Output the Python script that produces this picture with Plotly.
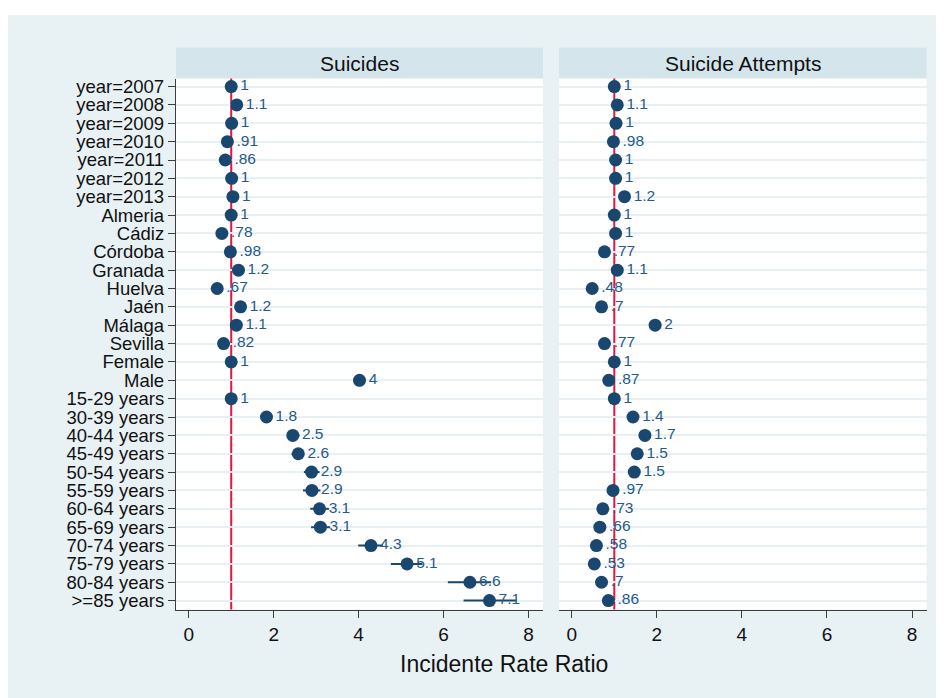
import plotly.graph_objects as go

# ---------------- data ----------------
row_labels = ["year=2007", "year=2008", "year=2009", "year=2010", "year=2011",
              "year=2012", "year=2013", "Almeria", "Cádiz", "Córdoba", "Granada",
              "Huelva", "Jaén", "Málaga", "Sevilla", "Female", "Male",
              "15-29 years", "30-39 years", "40-44 years", "45-49 years",
              "50-54 years", "55-59 years", "60-64 years", "65-69 years",
              "70-74 years", "75-79 years", "80-84 years", ">=85 years"]

suicides_irr = [1.00, 1.13, 1.01, 0.91, 0.86, 1.01, 1.04, 1.00, 0.78, 0.98, 1.17,
                0.67, 1.22, 1.12, 0.82, 1.00, 4.02, 1.00, 1.83, 2.45, 2.58,
                2.89, 2.90, 3.08, 3.10, 4.29, 5.14, 6.62, 7.08]
suicides_lo = [1.00, 1.04, 0.93, 0.84, 0.79, 0.93, 0.96, 1.00, 0.72, 0.91, 1.09,
               0.61, 1.13, 1.05, 0.76, 1.00, 3.88, 1.00, 1.72, 2.34, 2.42,
               2.71, 2.69, 2.86, 2.88, 3.99, 4.76, 6.10, 6.47]
suicides_hi = [1.00, 1.22, 1.09, 0.98, 0.93, 1.09, 1.12, 1.00, 0.84, 1.05, 1.26,
               0.73, 1.31, 1.19, 0.88, 1.00, 4.16, 1.00, 1.95, 2.61, 2.69,
               3.08, 3.10, 3.30, 3.33, 4.57, 5.50, 7.12, 7.71]

attempts_irr = [1.00, 1.07, 1.04, 0.98, 1.03, 1.03, 1.24, 1.00, 1.03, 0.77, 1.07,
                0.48, 0.70, 1.96, 0.77, 1.00, 0.87, 1.00, 1.44, 1.72, 1.54,
                1.47, 0.97, 0.73, 0.66, 0.58, 0.53, 0.70, 0.86]
attempts_lo = [1.00, 1.04, 1.01, 0.95, 1.00, 1.00, 1.20, 1.00, 1.00, 0.74, 1.04,
               0.46, 0.68, 1.90, 0.75, 1.00, 0.85, 1.00, 1.39, 1.66, 1.48,
               1.42, 0.93, 0.70, 0.63, 0.55, 0.50, 0.66, 0.81]
attempts_hi = [1.00, 1.10, 1.07, 1.01, 1.06, 1.06, 1.28, 1.00, 1.06, 0.80, 1.10,
               0.50, 0.72, 2.02, 0.79, 1.00, 0.89, 1.00, 1.49, 1.78, 1.60,
               1.52, 1.01, 0.76, 0.69, 0.61, 0.56, 0.74, 0.91]

panel_titles = ["Suicides", "Suicide Attempts"]
x_ticks = [0, 2, 4, 6, 8]
x_title = "Incidente Rate Ratio"
ref_value = 1

# ---------------- style ----------------
W, H = 944, 698          # figure size (page body adds an 8px offset)
OX, OY = 8, 8            # screen offset of the figure
NAVY = "#1a476f"
LABEL = "#245a8a"
RED = "#e3173e"
BG = "#e8f1f4"
STRIP = "#d5e5ec"
GRID = "#e8f0f3"
AXIS = "#3c3c3c"
FONT = "Arial, Liberation Sans, sans-serif"


def fx(p):
    return (p - OX) / W


def fy(p):
    return 1 - (p - OY) / H


def fmt(v):
    s = f"{v:.2g}"
    if s.startswith("0."):
        s = s[1:]
    return s


panels = [
    (suicides_irr, suicides_lo, suicides_hi, "x", "y", (176, 543)),
    (attempts_irr, attempts_lo, attempts_hi, "x2", "y2", (559, 926.5)),
]

fig = go.Figure()
for est, lo, hi, xa, ya, _ in panels:
    fig.add_trace(go.Scatter(
        x=est, y=row_labels, mode="markers+text",
        text=[fmt(v) for v in est], textposition="middle right",
        textfont=dict(size=15.5, color=LABEL, family=FONT),
        marker=dict(size=13, color=NAVY),
        error_x=dict(type="data", symmetric=False,
                     array=[h - e for h, e in zip(hi, est)],
                     arrayminus=[e - l for e, l in zip(est, lo)],
                     color=NAVY, thickness=2, width=0),
        xaxis=xa, yaxis=ya, cliponaxis=False, showlegend=False,
        hoverinfo="skip"))

y_top, y_bot = 76, 610
n = len(row_labels)
step = (601 - 84) / (n - 1)
yr = [(y_bot - 84) / step, (y_top - 84) / step]

common_x = dict(range=[-0.3, 8.34], tickvals=x_ticks, ticks="outside",
                ticklen=7, tickwidth=1.3, tickcolor=AXIS, showline=True,
                linecolor=AXIS, linewidth=1.3, showgrid=False, zeroline=False,
                tickfont=dict(size=19, color="#111", family=FONT), fixedrange=True)
common_y = dict(type="category", categoryarray=row_labels, range=yr,
                tickmode="array", tickvals=row_labels, ticktext=row_labels,
                showgrid=True, gridcolor=GRID, gridwidth=2, zeroline=False,
                domain=[fy(y_bot), fy(y_top)], fixedrange=True)

fig.update_layout(
    width=W, height=H, margin=dict(l=0, r=0, t=0, b=0),
    paper_bgcolor=BG, plot_bgcolor="white",
    font=dict(family=FONT, color="#111"),
    xaxis=dict(domain=[fx(176), fx(543)], anchor="y", **common_x),
    xaxis2=dict(domain=[fx(559), fx(926.5)], anchor="y2", **common_x),
    yaxis=dict(anchor="x", showline=True, linecolor=AXIS, linewidth=1.3,
               ticks="outside", ticklen=7, tickwidth=1.3, tickcolor=AXIS,
               tickfont=dict(size=18.5, color="#111", family=FONT), **common_y),
    yaxis2=dict(anchor="x2", showticklabels=False, showline=False, ticks="",
                **common_y),
)

shapes = [
    # thin white band at the very top
    dict(type="rect", xref="paper", yref="paper", x0=0, x1=1, y0=fy(12), y1=1.01,
         fillcolor="white", line_width=0, layer="below"),
]
annotations = []
for (est, lo, hi, xa, ya, (x0, x1)), title in zip(panels, panel_titles):
    shapes.append(dict(type="rect", xref="paper", yref="paper",
                       x0=fx(x0), x1=fx(x1), y0=fy(75.7), y1=fy(45),
                       fillcolor=STRIP, line_width=0, layer="below"))
    annotations.append(dict(text=title, xref="paper", yref="paper",
                            x=fx((x0 + x1) / 2), y=fy(60.5), showarrow=False,
                            xanchor="center", yanchor="middle",
                            font=dict(size=21, color="#111", family=FONT)))
    shapes.append(dict(type="line", xref=xa, yref=ya + " domain",
                       x0=ref_value, x1=ref_value, y0=0, y1=1,
                       line=dict(color=RED, width=2), layer="below"))

annotations.append(dict(text=x_title, xref="paper", yref="paper",
                        x=fx(504), y=fy(665), showarrow=False,
                        xanchor="center", yanchor="middle",
                        font=dict(size=23, color="#111", family=FONT)))

fig.update_layout(shapes=shapes, annotations=annotations)
fig.write_html("out.html")
